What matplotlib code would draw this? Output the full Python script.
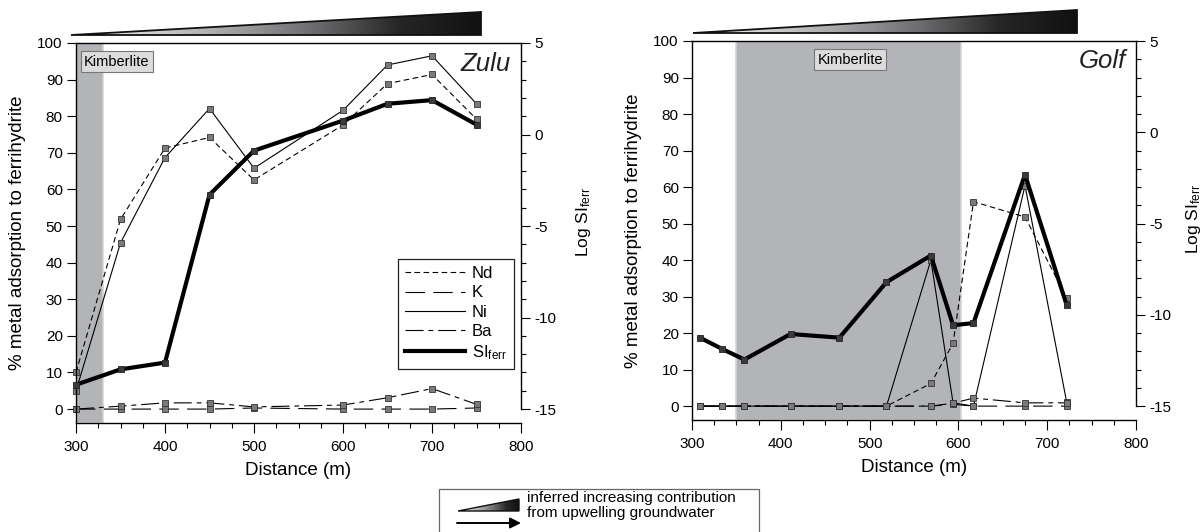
"""Metal adsorption to ferrihydrite and Log SI_ferr along the Zulu and Golf transects."""

import matplotlib

matplotlib.use("Agg")
import matplotlib.lines as mlines
import matplotlib.pyplot as plt
import numpy as np
from matplotlib.colors import LinearSegmentedColormap
from matplotlib.patches import Polygon, Rectangle
from matplotlib.ticker import MultipleLocator

plt.rcParams["font.family"] = ["Liberation Sans", "DejaVu Sans"]
plt.rcParams["mathtext.fontset"] = "custom"
plt.rcParams["mathtext.rm"] = "Liberation Sans"
plt.rcParams["mathtext.it"] = "Liberation Sans:italic"
plt.rcParams["axes.unicode_minus"] = False
plt.rcParams["lines.scale_dashes"] = False

# Zulu transect
zulu_dist = [300, 350, 400, 450, 500, 600, 650, 700, 750]
zulu_nd = [10.0, 51.8, 71.3, 74.2, 62.6, 77.6, 88.9, 91.4, 79.2]
zulu_k = [0.0, 0.0, 0.0, 0.0, 0.3, 0.0, 0.0, 0.0, 0.3]
zulu_ni = [5.0, 45.4, 68.7, 82.1, 65.8, 81.6, 94.0, 96.5, 83.4]
zulu_ba = [0.0, 0.8, 1.7, 1.7, 0.6, 1.1, 3.1, 5.6, 1.3]
zulu_si = [-13.67, -12.83, -12.46, -3.29, -0.88, 0.76, 1.68, 1.88, 0.54]
zulu_kimberlite = (300, 330)

# Golf transect
golf_dist = [309, 334, 359, 411, 466, 519, 569, 594, 617, 675, 722]
golf_nd = [0.0, 0.0, 0.0, 0.0, 0.0, 0.0, 6.2, 17.2, 56.0, 51.8, 29.6]
golf_k = [0.0, 0.0, 0.0, 0.0, 0.0, 0.0, 0.0, 0.5, 0.0, 0.0, 0.0]
golf_ni = [0.0, 0.0, 0.0, 0.0, 0.0, 0.0, 40.0, 0.9, 0.0, 60.4, 1.0]
golf_ba = [0.0, 0.0, 0.0, 0.0, 0.0, 0.0, 0.0, 0.8, 2.2, 0.9, 0.9]
golf_si = [-11.25, -11.87, -12.45, -11.05, -11.25, -8.21, -6.75, -10.57, -10.45, -2.32, -9.48]
golf_kimberlite = (350, 603)

metal_styles = {
    "Nd": dict(linestyle=(0, (4, 2.5)), linewidth=0.8),
    "K": dict(linestyle=(0, (14, 6)), linewidth=0.8),
    "Ni": dict(linestyle="-", linewidth=0.8),
    "Ba": dict(linestyle=(0, (13, 3.5, 3.5, 3.5)), linewidth=0.8),
}
marker_kw = dict(marker="s", markersize=4, markerfacecolor="#7a7a7a", markeredgecolor="#333333",
                 markeredgewidth=0.6, clip_on=False)

Y_LOW = -3.8
SI_LOW = -15 + Y_LOW / 5.0


def draw_panel(fig, rect, dist, metals, si, kimberlite, name, kimb_x, kimb_ha, si_label_x, legend=False):
    ax = fig.add_axes(rect)
    ax.axvspan(*kimberlite, facecolor="#b3b4b8", edgecolor="#d4d4d4", linewidth=1.2, zorder=0)
    for label, values in metals.items():
        ax.plot(dist, values, color="black", label=label, **metal_styles[label], **marker_kw)

    ax.set_xlim(300, 800)
    ax.set_ylim(Y_LOW, 100)
    ax.set_yticks(np.arange(0, 101, 10))
    ax.set_xticks(np.arange(300, 801, 100))
    ax.xaxis.set_minor_locator(MultipleLocator(25))
    ax.tick_params(axis="x", which="major", direction="out", length=7, width=0.8, labelsize=11, pad=5)
    ax.tick_params(axis="x", which="minor", direction="out", length=3.5, width=0.8)
    ax.tick_params(axis="y", direction="out", length=6.5, width=0.8, labelsize=11, pad=3)
    ax.set_xlabel("Distance (m)", fontsize=13.5, labelpad=6)
    ax.set_ylabel("% metal adsorption to ferrihydrite", fontsize=13.5)
    ax.yaxis.set_label_coords(-0.112, 0.5)
    for spine in ax.spines.values():
        spine.set_linewidth(1.0)
    ax.spines["right"].set_visible(False)

    ax2 = ax.twinx()
    ax2.plot(dist, si, color="black", linewidth=3.0, label=r"SI$_{\mathrm{ferr}}$",
             **{**marker_kw, "markerfacecolor": "#3a3a3a", "markeredgecolor": "#222222"})
    ax2.set_ylim(SI_LOW, 5)
    ax2.set_yticks([5, 0, -5, -10, -15])
    ax2.set_yticks(np.arange(-15, 5.1, 1), minor=True)
    ax2.tick_params(axis="y", which="major", direction="out", length=6.5, width=0.8, labelsize=11, pad=3)
    ax2.tick_params(axis="y", which="minor", direction="out", length=3.5, width=0.8)
    ax2.spines["right"].set_bounds(-15, 5)
    ax2.spines["right"].set_linewidth(1.0)
    for side in ["left", "top", "bottom"]:
        ax2.spines[side].set_visible(False)
    ax2.set_ylabel(r"Log SI$_{\mathrm{ferr}}$", fontsize=12.5)
    ax2.yaxis.set_label_coords(si_label_x, 0.53)

    ax.text(kimb_x, 0.951, "Kimberlite", transform=ax.transAxes, ha=kimb_ha, va="center", fontsize=10.5,
            bbox=dict(boxstyle="square,pad=0.22", facecolor="#dcdcdc", edgecolor="#777777", linewidth=0.8),
            zorder=5)
    ax.text(0.978, 0.946, name, transform=ax.transAxes, ha="right", va="center", fontsize=18.5,
            style="italic", color="#222222")

    if legend:
        labels = list(metals.keys())
        handles = [mlines.Line2D([], [], color="black", **metal_styles[l]) for l in labels]
        handles.append(mlines.Line2D([], [], color="black", linewidth=3.0))
        leg = ax2.legend(handles, labels + [r"SI$_{\mathrm{ferr}}$"], loc="lower right",
                         bbox_to_anchor=(0.985, 0.142), borderaxespad=0, fontsize=12,
                         handlelength=3.6, handletextpad=0.4, labelspacing=0.25, fancybox=False,
                         framealpha=1, borderpad=0.45)
        leg.get_frame().set_edgecolor("#222222")
        leg.get_frame().set_linewidth(0.9)
    return ax, ax2


fig = plt.figure(figsize=(12.04, 5.32), dpi=100)

draw_panel(fig, [76 / 1204, 1 - 423 / 532, 445 / 1204, 380 / 532], zulu_dist,
           {"Nd": zulu_nd, "K": zulu_k, "Ni": zulu_ni, "Ba": zulu_ba}, zulu_si, zulu_kimberlite,
           "Zulu", 0.018, "left", 1.12, legend=True)
draw_panel(fig, [692 / 1204, 1 - 420 / 532, 444 / 1204, 379 / 532], golf_dist,
           {"Nd": golf_nd, "K": golf_k, "Ni": golf_ni, "Ba": golf_ba}, golf_si, golf_kimberlite,
           "Golf", 0.356, "center", 1.108)

# overlay in pixel coordinates for the wedges and the key at the bottom
ov = fig.add_axes([0, 0, 1, 1], zorder=10)
ov.axis("off")
ov.patch.set_alpha(0)

wedge_cmap = LinearSegmentedColormap.from_list(
    "wedge", ["#f4f4f4", "#d0d0d0", "#a0a0a2", "#6a6a6c", "#262626", "#111111"])
gradient = np.linspace(0, 1, 256).reshape(1, -1)


def wedge(x0, x1, yb, yt, lw):
    tri = Polygon([(x0, yb), (x1, yt), (x1, yb)], closed=True, facecolor="none",
                  edgecolor="#111111", linewidth=lw, joinstyle="miter", zorder=4)
    im = ov.imshow(gradient, extent=(x0, x1, yb, yt), cmap=wedge_cmap, aspect="auto",
                   interpolation="bilinear", zorder=3)
    ov.add_patch(tri)
    im.set_clip_path(tri)


ov.add_patch(Rectangle((439, 489), 320, 60, facecolor="white", edgecolor="#666666", linewidth=0.9,
                       zorder=1))
wedge(71, 481, 35, 12, 1.3)
wedge(693, 1077, 33, 10, 1.3)
wedge(458, 519, 511, 499, 1.0)
ov.annotate("", xy=(521, 523), xytext=(457, 523),
            arrowprops=dict(arrowstyle="-|>", color="black", lw=1.4, mutation_scale=16,
                            shrinkA=0, shrinkB=0))
ov.text(527, 498, "inferred increasing contribution", va="center", ha="left", fontsize=11)
ov.text(527, 513.5, "from upwelling groundwater", va="center", ha="left", fontsize=11)
ov.set_xlim(0, 1204)
ov.set_ylim(532, 0)

fig.savefig("out.png", dpi=100)
